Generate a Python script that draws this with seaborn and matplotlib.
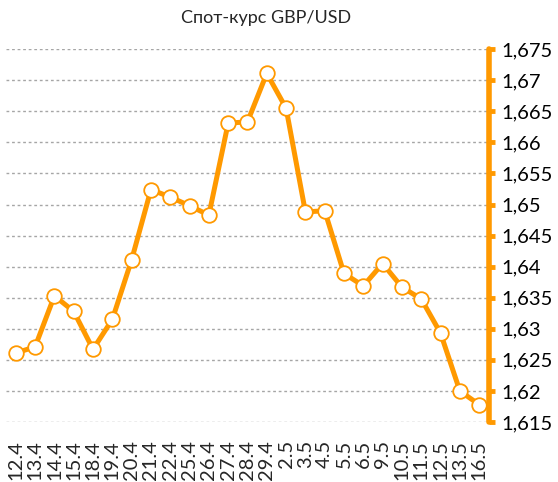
import matplotlib
matplotlib.use('Agg')
import matplotlib.pyplot as plt
import seaborn as sns
import pandas as pd

# data
dates = ['12.4', '13.4', '14.4', '15.4', '18.4', '19.4', '20.4', '21.4', '22.4',
         '25.4', '26.4', '27.4', '28.4', '29.4', '2.5', '3.5', '4.5', '5.5',
         '6.5', '9.5', '10.5', '11.5', '12.5', '13.5', '16.5']
rate = [1.6261, 1.6271, 1.6353, 1.6328, 1.6267, 1.6315, 1.6411, 1.6524, 1.6512,
        1.6498, 1.6483, 1.6631, 1.6633, 1.6711, 1.6655, 1.6488, 1.6490, 1.6389,
        1.6369, 1.6405, 1.6367, 1.6348, 1.6293, 1.6200, 1.6178]
y_ticks = [1.615, 1.62, 1.625, 1.63, 1.635, 1.64, 1.645, 1.65, 1.655, 1.66,
           1.665, 1.67, 1.675]

df = pd.DataFrame({'pos': range(len(dates)), 'rate': rate})

sns.set_style('white')
plt.rcParams['font.family'] = ['Lato', 'DejaVu Sans']

orange = '#FF9900'

fig = plt.figure(figsize=(5.58, 4.82), dpi=100)
ax = fig.add_axes([0.011, 0.1245, 0.865, 0.7735])

sns.lineplot(data=df, x='pos', y='rate', ax=ax, color=orange, linewidth=3.6,
             marker='o', markersize=10.5, markerfacecolor='white',
             markeredgecolor=orange, markeredgewidth=1.3, zorder=3)

ax.set_xlim(-0.5, len(dates) - 0.5)
ax.set_ylim(1.615, 1.675)

# right value axis, excel style
ax.yaxis.tick_right()
ax.set_yticks(y_ticks)
ax.set_yticklabels([f'{v:.3f}'.rstrip('0').replace('.', ',') for v in y_ticks],
                   fontsize=14.5)
ax.tick_params(axis='y', which='major', direction='out', length=4, width=3.5,
               color=orange, pad=5, labelcolor='#000000')

ax.set_xticks(range(len(dates)))
ax.set_xticklabels(dates, rotation=90, fontsize=14.5, va='top')
ax.tick_params(axis='x', length=0, pad=13)

for side in ['top', 'left', 'bottom']:
    ax.spines[side].set_visible(False)
ax.spines['right'].set_color(orange)
ax.spines['right'].set_linewidth(4)
ax.spines['right'].set_capstyle('round')

ax.grid(axis='y', color='#A6A6A6', linestyle=(0, (2, 2)), linewidth=1)
ax.grid(axis='x', visible=False)
ax.set_axisbelow(True)

ax.set_xlabel('')
ax.set_ylabel('')
fig.text(0.477, 0.962, 'Спот-курс GBP/USD', ha='center', va='center', fontsize=13)

fig.savefig('out.png', dpi=100)
